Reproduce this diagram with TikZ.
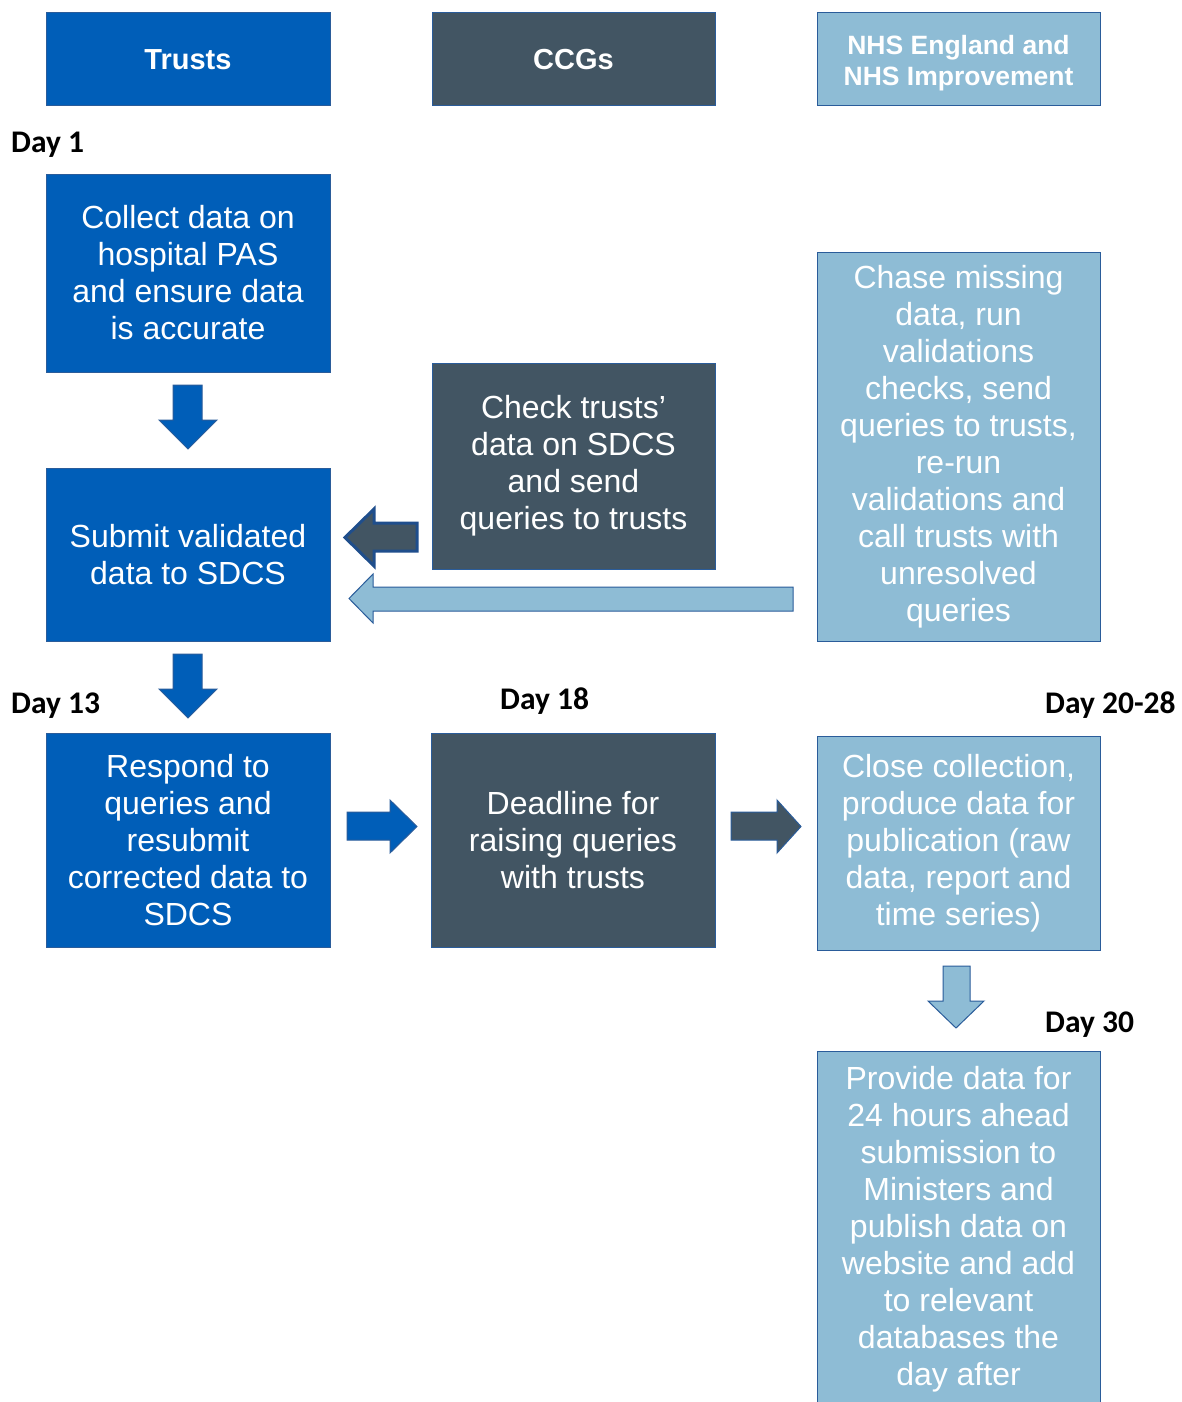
\documentclass[tikz,border=0pt]{standalone}
\usepackage{fontspec}
\setmainfont{Liberation Sans}
\newfontfamily\dayfont{Carlito}
\definecolor{tblue}{HTML}{005EB8}
\definecolor{cgrey}{HTML}{425563}
\definecolor{nlight}{HTML}{8EBCD5}
\definecolor{edgeblue}{HTML}{2A5C9A}
\definecolor{darkedge}{HTML}{1F4E8C}
\begin{document}
\begin{tikzpicture}[x=1pt,y=-1pt,
 box/.style={draw=edgeblue, line width=1pt, text=white, align=center, inner sep=0pt, font=\fontsize{32}{37}\selectfont},
 headbox/.style={box, font=\bfseries\fontsize{29}{31}\selectfont},
 trust/.style={fill=tblue}, ccg/.style={fill=cgrey}, nhs/.style={fill=nlight},
 daylbl/.style={font=\dayfont\bfseries\fontsize{31.5}{33}\selectfont, inner sep=0pt, anchor=base west},
 blockarrow/.style={draw=edgeblue, line width=1pt, line join=miter},
]
\useasboundingbox (0,0) rectangle (1181,1402);
\clip (0,0) rectangle (1181,1402);
\fill[white] (0,0) rectangle (1181,1402);

% headers
\node[headbox,trust,minimum width=284pt,minimum height=93pt] (trusts) at (188,59.5) {Trusts};
\node[headbox,ccg,minimum width=283pt,minimum height=93pt] (ccgs) at (573.5,59.5) {CCGs};
\node[headbox,nhs,minimum width=283pt,minimum height=93pt] (nhse) at (958.5,59.5) {};
\node[text=white,align=center,inner sep=0pt,font=\bfseries\fontsize{26.5}{31}\selectfont] (nhset) at (958.5,63) {NHS England and\\NHS Improvement};

% day labels
\node[daylbl] (d1) at (11,152) {Day 1};
\node[daylbl] (d13) at (11,713) {Day 13};
\node[daylbl] (d18) at (500,709) {Day 18};
\node[daylbl] (d20) at (1045,713) {Day 20-28};
\node[daylbl] (d30) at (1045,1032) {Day 30};

% body boxes
\node[box,trust,minimum width=284pt,minimum height=198pt] (collect) at (188,273) {Collect data on\\hospital PAS\\and ensure data\\is accurate};
\node[box,trust,minimum width=284pt,minimum height=173pt] (submit) at (188,554.5) {Submit validated\\data to SDCS};
\node[box,ccg,minimum width=283pt,minimum height=206pt] (check) at (573.5,466) {Check trusts’\\data on SDCS\\and send\\queries to trusts};
\node[box,nhs,minimum width=283pt,minimum height=389pt] (chase) at (958.5,446.5) {Chase missing\\data, run\\validations\\checks, send\\queries to trusts,\\re-run\\validations and\\call trusts with\\unresolved\\queries};
\node[box,trust,minimum width=284pt,minimum height=214pt] (respond) at (188,840) {Respond to\\queries and\\resubmit\\corrected data to\\SDCS};
\node[box,ccg,minimum width=284pt,minimum height=214pt] (deadline) at (573,840) {Deadline for\\raising queries\\with trusts};
\node[box,nhs,minimum width=283pt,minimum height=214pt] (close) at (958.5,843) {Close collection,\\produce data for\\publication (raw\\data, report and\\time series)};
\node[box,nhs,minimum width=283pt,minimum height=357pt] (provide) at (958.5,1229.5) {Provide data for\\24 hours ahead\\submission to\\Ministers and\\publish data on\\website and add\\to relevant\\databases the\\day after};

% block arrows
\filldraw[blockarrow,fill=tblue] (173,385)--(202,385)--(202,420)--(217,420)--(188,449)--(159,420)--(173,420)--cycle;
\filldraw[blockarrow,fill=tblue] (173,654)--(202,654)--(202,689)--(217,689)--(188,718)--(159,689)--(173,689)--cycle;
\filldraw[draw=darkedge,line width=3pt,line join=miter,fill=cgrey] (417,523)--(374,523)--(374,509)--(345,537.5)--(374,566)--(374,551)--(417,551)--cycle;
\filldraw[blockarrow,fill=nlight] (793,587)--(373,587)--(373,574)--(349,598.5)--(373,623)--(373,611)--(793,611)--cycle;
\filldraw[blockarrow,fill=tblue] (347,812)--(390,812)--(390,800)--(417,826.5)--(390,853)--(390,840)--(347,840)--cycle;
\filldraw[blockarrow,fill=cgrey] (731,812)--(777,812)--(777,800)--(801,826.5)--(777,853)--(777,840)--(731,840)--cycle;
\filldraw[blockarrow,fill=nlight] (943,966)--(970,966)--(970,1001)--(984,1001)--(956,1028)--(928,1001)--(943,1001)--cycle;
\end{tikzpicture}
\end{document}
